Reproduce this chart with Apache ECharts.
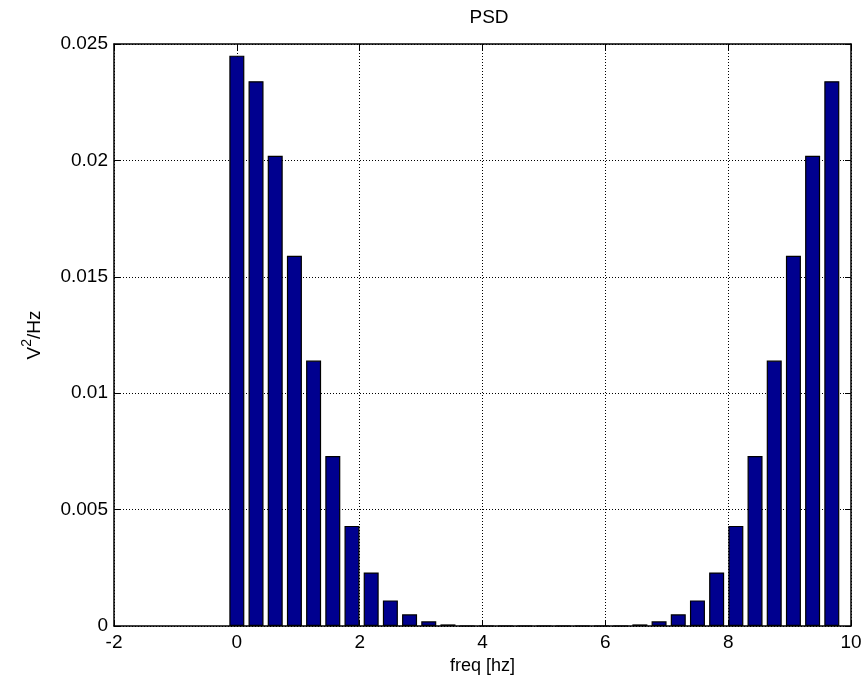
<!DOCTYPE html>
<html>
<head>
<meta charset="utf-8">
<script src="https://cdn.jsdelivr.net/npm/echarts@6/dist/echarts.min.js"></script>
<style>
  html, body { margin: 0; padding: 0; background: #fff; }
  #psd { width: 868px; height: 689px; }
</style>
</head>
<body>
<div id="psd"></div>
<script>
// frequency bins (hz), step 10/32
const freqs = [
  0, 0.3125, 0.625, 0.9375, 1.25, 1.5625, 1.875, 2.1875,
  2.5, 2.8125, 3.125, 3.4375, 3.75, 4.0625, 4.375, 4.6875,
  5, 5.3125, 5.625, 5.9375, 6.25, 6.5625, 6.875, 7.1875,
  7.5, 7.8125, 8.125, 8.4375, 8.75, 9.0625, 9.375, 9.6875
]
// power spectral density (V^2/Hz)
const psd = [
  0.0245, 0.0234, 0.0202, 0.0159, 0.0114, 0.0073, 0.0043, 0.0023,
  0.0011, 0.0005, 0.0002, 0.00007, 0, 0, 0, 0,
  0, 0, 0, 0, 0, 0.00007, 0.0002, 0.0005,
  0.0011, 0.0023, 0.0043, 0.0073, 0.0114, 0.0159, 0.0202, 0.0234
]
const xTicks = [-2, 0, 2, 4, 6, 8, 10]
const yTicks = [0, 0.005, 0.01, 0.015, 0.02, 0.025]

const font = 'Liberation Sans, Arial, Helvetica, sans-serif'
const chart = echarts.init(document.getElementById('psd'))

const dotted = { show: true, lineStyle: { color: '#000', type: [1, 2], width: 1 } }
const line = { show: true, onZero: false, lineStyle: { color: '#000', width: 1.5 } }
const tick = { show: true, inside: true, length: 6, lineStyle: { color: '#000' } }

const option = {
  animation: false,
  title: {
    text: 'PSD',
    left: 484,
    textAlign: 'center',
    top: 3,
    textStyle: { fontFamily: font, fontSize: 19, fontWeight: 'normal', color: '#000' }
  },
  grid: { left: 114, right: 17, top: 44, bottom: 63 },
  xAxis: [
    {
      type: 'value',
      min: xTicks[0], max: xTicks[xTicks.length - 1], interval: 2,
      name: 'freq [hz]', nameLocation: 'middle', nameGap: 30,
      nameTextStyle: { fontFamily: font, fontSize: 18, color: '#000' },
      axisLine: line, axisTick: tick, splitLine: dotted,
      axisLabel: { fontFamily: font, fontSize: 19, color: '#000', margin: 7 }
    },
    {
      type: 'value', position: 'top',
      min: xTicks[0], max: xTicks[xTicks.length - 1], interval: 2,
      axisLine: line, axisTick: tick, splitLine: { show: false },
      axisLabel: { show: false }
    }
  ],
  yAxis: [
    {
      type: 'value',
      min: yTicks[0], max: yTicks[yTicks.length - 1], interval: 0.005,
      name: '{v|V}{s|2}{v|/Hz}', nameLocation: 'middle', nameGap: 70,
      nameTextStyle: {
        fontFamily: font, fontSize: 19, color: '#000',
        rich: {
          v: { fontFamily: font, fontSize: 19, color: '#000', lineHeight: 24, verticalAlign: 'bottom' },
          s: { fontFamily: font, fontSize: 14, color: '#000', lineHeight: 14, verticalAlign: 'top' }
        }
      },
      axisLine: line, axisTick: tick, splitLine: dotted,
      axisLabel: { fontFamily: font, fontSize: 19, color: '#000', margin: 6 }
    },
    {
      type: 'value', position: 'right',
      min: yTicks[0], max: yTicks[yTicks.length - 1], interval: 0.005,
      axisLine: line, axisTick: tick, splitLine: { show: false },
      axisLabel: { show: false }
    }
  ],
  series: [
    {
      type: 'bar',
      barWidth: 15,
      data: freqs.map((f, i) => [f, psd[i]]),
      itemStyle: { color: '#00008f', borderColor: '#000', borderWidth: 1.2 }
    }
  ]
}
chart.setOption(option)
</script>
</body>
</html>
